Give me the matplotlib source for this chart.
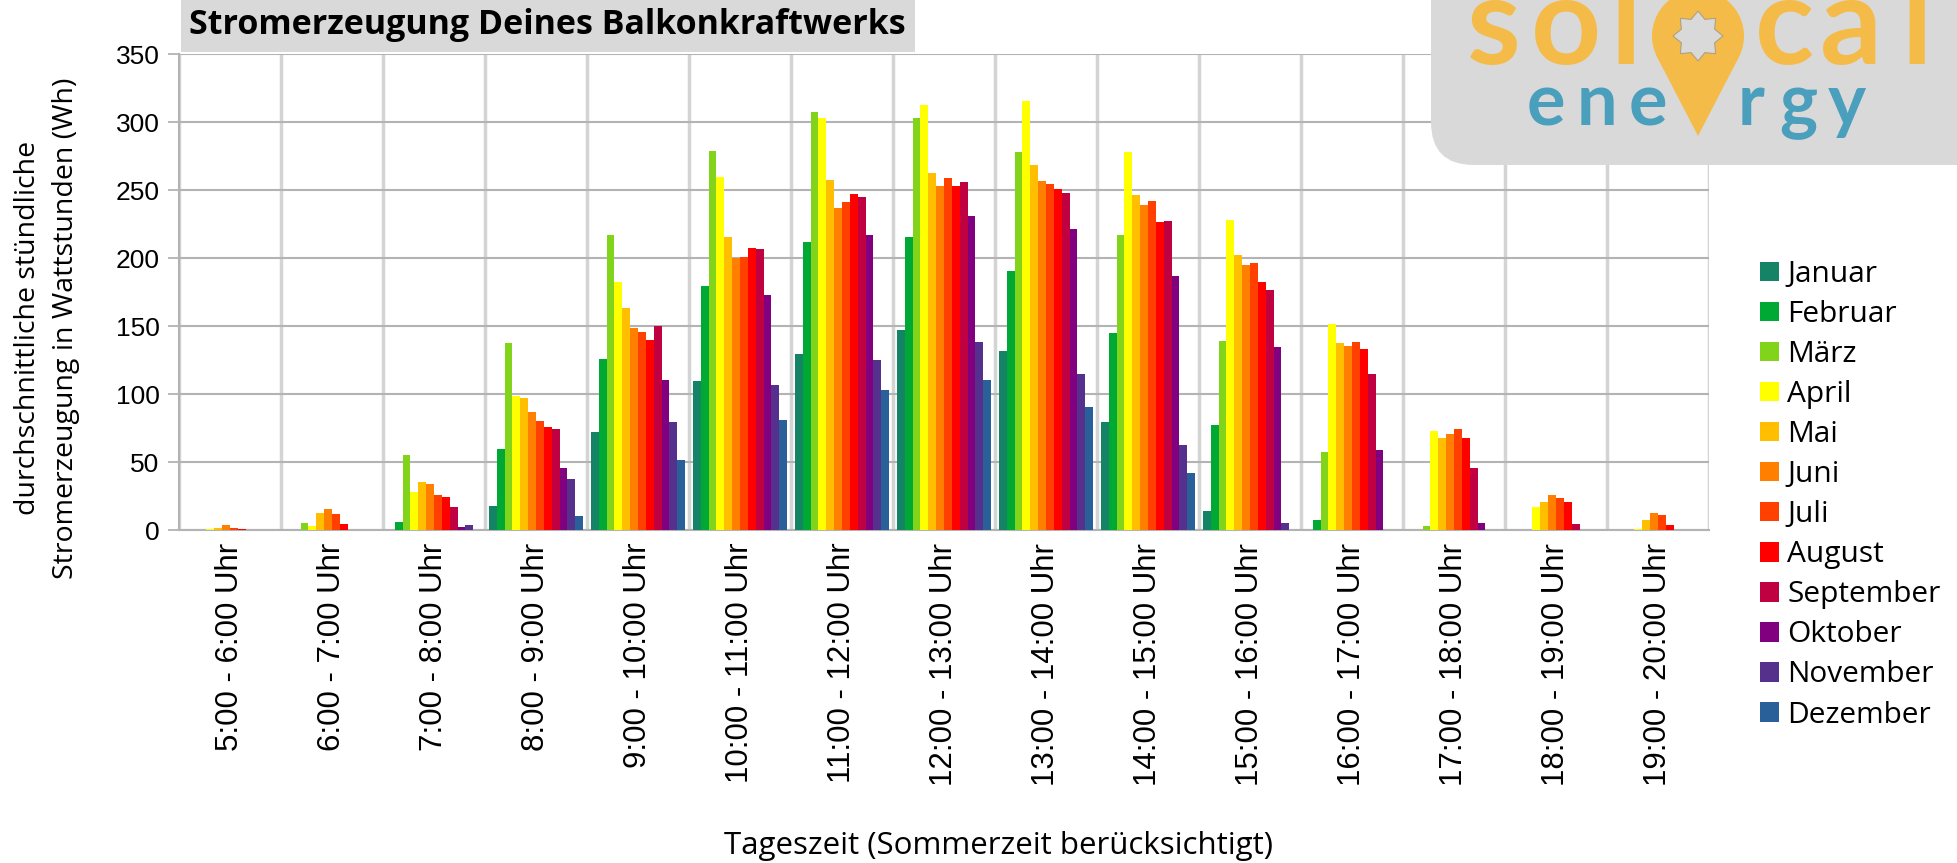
import numpy as np
import matplotlib
matplotlib.use("Agg")
import matplotlib.pyplot as plt
from matplotlib.patches import Patch, Rectangle, FancyBboxPatch, Circle, Polygon

# --- data ---------------------------------------------------------------
stunden = ["5:00 - 6:00 Uhr", "6:00 - 7:00 Uhr", "7:00 - 8:00 Uhr", "8:00 - 9:00 Uhr",
           "9:00 - 10:00 Uhr", "10:00 - 11:00 Uhr", "11:00 - 12:00 Uhr", "12:00 - 13:00 Uhr",
           "13:00 - 14:00 Uhr", "14:00 - 15:00 Uhr", "15:00 - 16:00 Uhr", "16:00 - 17:00 Uhr",
           "17:00 - 18:00 Uhr", "18:00 - 19:00 Uhr", "19:00 - 20:00 Uhr"]

januar    = [0.5, 0.5, 0.5, 18, 72, 110, 130, 147, 132, 80, 14, 0.5, 0.5, 0.3, 0.3]
februar   = [0.5, 0.5, 6.4, 60, 126, 180, 212, 216, 191, 145, 77.5, 7.6, 0.5, 0.3, 0.3]
maerz     = [0.5, 5.6, 55.6, 138, 217, 279, 308, 303, 278, 217, 139, 57.6, 3.2, 0.5, 0.3]
april     = [0.7, 3.4, 28.4, 99, 183, 260, 303, 313, 316, 278, 228, 152, 73, 17.2, 1]
mai       = [2, 13, 35.8, 97.5, 163.5, 216, 258, 263, 269, 247, 202.5, 138, 68, 20.8, 7.6]
juni      = [4.2, 16, 34.3, 87.3, 149, 200, 237, 253, 257, 239, 195, 135.5, 70.8, 26, 12.7]
juli      = [2, 12.3, 26.2, 80.6, 146, 201, 241.4, 259, 254.7, 242, 196.6, 138.5, 74.5, 23.8, 11.3]
august    = [0.7, 4.9, 24.8, 76.2, 140, 207.6, 247.3, 253.2, 251, 226.7, 182.6, 133.3, 67.9, 20.8, 3.9]
september = [0.5, 0.5, 17.4, 74.8, 150.2, 207, 245, 256, 248, 227.5, 176.7, 115, 45.8, 4.7, 0.5]
oktober   = [0.5, 0.5, 2.7, 46, 110.5, 173, 217, 231, 222, 187, 134.8, 59, 5.4, 0.3, 0.3]
november  = [0.3, 0.3, 4.2, 38, 79.7, 107, 125, 138.5, 115, 62.7, 5.4, 0.5, 0.3, 0.3, 0.3]
dezember  = [0.3, 0.3, 0.5, 10.8, 51.7, 81, 103, 110.5, 90.7, 42.2, 0.5, 0.5, 0.3, 0.3, 0.3]

monate = ["Januar", "Februar", "März", "April", "Mai", "Juni", "Juli", "August",
          "September", "Oktober", "November", "Dezember"]
werte = [januar, februar, maerz, april, mai, juni, juli, august,
         september, oktober, november, dezember]
farben = ["#158466", "#00a933", "#81d41a", "#ffff00", "#ffbf00", "#ff8000",
          "#ff4000", "#ff0000", "#bf0041", "#800080", "#55308d", "#2a6099"]

W, H = 1957, 863
fig = plt.figure(figsize=(W / 100, H / 100), dpi=100)

# main axes (pixel box: x 179..1709, y 54.5..530.3)
ax = fig.add_axes([179 / W, 1 - 530.3 / H, 1530 / W, 475.8 / H])
x = np.arange(len(stunden))
bw = 1 / 13
for j, (m, v, c) in enumerate(zip(monate, werte, farben)):
    ax.bar(x + (j - 5.5) * bw, v, width=bw, color=c, linewidth=0, label=m, zorder=3)

ax.set_xlim(-0.5, len(stunden) - 0.5)
ax.set_ylim(0, 350)
ax.set_yticks(range(0, 351, 50))
ax.set_xticks(x)
ax.set_xticklabels(stunden, rotation=90, fontsize=22.5, family="Liberation Sans")
ax.set_xticks(np.arange(-0.5, len(stunden), 1), minor=True)
ax.tick_params(axis="x", which="both", length=0, pad=9)
ax.tick_params(axis="y", length=8, width=1.3, color="#b3b3b3", pad=6, labelsize=19)
for t in ax.get_yticklabels():
    t.set_family("Liberation Sans")
ax.grid(axis="y", color="#b3b3b3", lw=1.5, zorder=0)
ax.grid(axis="x", which="minor", color="#d4d4d4", lw=2.5, zorder=0)
ax.set_axisbelow(True)
for s in ["top", "right"]:
    ax.spines[s].set_visible(False)
ax.spines["left"].set_color("#b3b3b3")
ax.spines["left"].set_linewidth(1.5)
ax.spines["bottom"].set_color("#b3b3b3")
ax.spines["bottom"].set_linewidth(1.5)

# axis labels
fig.text(47 / W, 1 - 328 / H, "durchschnittliche stündliche\nStromerzeugung in Wattstunden (Wh)",
         rotation=90, ha="center", va="center", multialignment="center",
         fontsize=20.5, family="Open Sans", linespacing=1.5)
fig.text(998 / W, 1 - 846 / H, "Tageszeit (Sommerzeit berücksichtigt)",
         ha="center", va="center", fontsize=22.5, family="Open Sans")

# legend
handles = [Patch(facecolor=c, edgecolor="none") for c in farben]
fig.legend(handles, monate, loc="upper left", bbox_to_anchor=(1760 / W, 1 - 260 / H),
           frameon=False, borderpad=0, borderaxespad=0, handlelength=0.62, handleheight=0.62,
           handletextpad=0.3, labelspacing=0.37, prop={"family": "Open Sans", "size": 21.5})

# overlay in pixel coordinates for title box and logo
ov = fig.add_axes([0, 0, 1, 1], zorder=10)
ov.set_xlim(0, W)
ov.set_ylim(H, 0)
ov.axis("off")

ov.add_patch(Rectangle((181, -2), 734, 54, color="#d9d9d9", lw=0))
ov.text(189, 25, "Stromerzeugung Deines Balkonkraftwerks", ha="left", va="center",
        fontsize=24.5, fontweight="bold", family="Open Sans")

grau = "#d9d9d9"
orange = "#f5bb48"
blau = "#4a9fbd"
ov.add_patch(FancyBboxPatch((1431, -100), 700, 265, boxstyle="round,pad=0,rounding_size=43",
                            color=grau, lw=0))
for ch, cx in zip("sol", [1494, 1566, 1626]):
    ov.text(cx, 64, ch, ha="center", va="baseline", color=orange, fontsize=88,
            fontweight="bold", family="Lato")
for ch, cx in zip("cal", [1784, 1851, 1917]):
    ov.text(cx, 64, ch, ha="center", va="baseline", color=orange, fontsize=88,
            fontweight="bold", family="Lato")
for ch, cx in zip("ene", [1546, 1597, 1648]):
    ov.text(cx, 125, ch, ha="center", va="baseline", color=blau, fontsize=52,
            fontweight="bold", family="Lato")
for ch, cx in zip("rgy", [1751, 1798, 1847]):
    ov.text(cx, 125, ch, ha="center", va="baseline", color=blau, fontsize=52,
            fontweight="bold", family="Lato")

# map pin with sun
pc, py, pr, tip = 1698, 36, 46, 136
a = np.arccos(pr / (tip - py))
p1 = (pc + pr * np.cos(np.pi / 2 - a), py + pr * np.sin(np.pi / 2 - a))
p2 = (pc + pr * np.cos(np.pi / 2 + a), py + pr * np.sin(np.pi / 2 + a))
ov.add_patch(Circle((pc, py), pr, color=orange, lw=0))
ov.add_patch(Polygon([p1, (pc, tip), p2], closed=True, color=orange, lw=0))
ang = np.arange(16) * np.pi / 8
rad = np.where(np.arange(16) % 2 == 0, 25, 18)
ov.add_patch(Polygon(np.column_stack([pc + rad * np.cos(ang), py + rad * np.sin(ang)]),
                     closed=True, facecolor=grau, edgecolor="#b0a080", lw=0.8))

fig.savefig("out.png", dpi=100)
